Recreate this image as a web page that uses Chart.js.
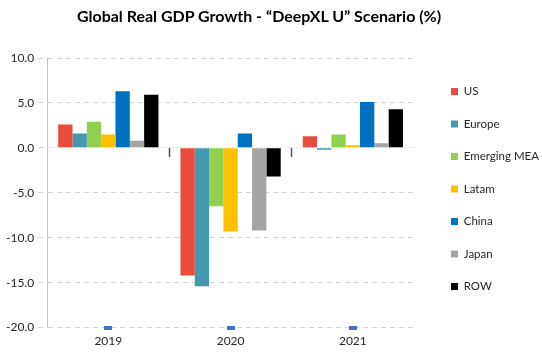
<!DOCTYPE html>
<html>
<head>
<meta charset="utf-8">
<script src="https://cdn.jsdelivr.net/npm/chart.js@4"></script>
<style>
  html, body { margin: 0; padding: 0; background: #ffffff; }
  #wrap { position: relative; width: 542px; height: 354px; }
  #title { position: absolute; top: 6px; left: 14px; width: 490px; text-align: center;
           font-family: Lato, "Open Sans", sans-serif; font-weight: bold; font-size: 16px; color: #000; }
  canvas { position: absolute; left: 0; top: 0; }
</style>
</head>
<body>
<div id="wrap">
  <canvas id="c" width="542" height="354"></canvas>
  <div id="title">Global Real GDP Growth - “DeepXL U” Scenario (%)</div>
</div>
<script>
const categories = ['2019', '2020', '2021'];
const seriesNames = ['US', 'Europe', 'Emerging MEA', 'Latam', 'China', 'Japan', 'ROW'];
const us          = [2.6, -14.2, 1.3];
const europe      = [1.6, -15.4, -0.2];
const emergingMEA = [2.9, -6.5, 1.5];
const latam       = [1.5, -9.3, 0.3];
const china       = [6.3, 1.6, 5.1];
const japan       = [0.8, -9.2, 0.5];
const row         = [5.9, -3.2, 4.3];
const baseMarkers = [-20, -20, -20];
const seriesColors = ['#e84c3d', '#4299b0', '#92d050', '#ffc000', '#0070c0', '#a5a5a5', '#000000'];
const yTicks = { min: -20, max: 10, step: 5 };

const seriesData = [us, europe, emergingMEA, latam, china, japan, row];
const datasets = seriesNames.map((name, i) => ({
  type: 'bar',
  label: name,
  data: seriesData[i],
  backgroundColor: seriesColors[i],
  borderWidth: 0,
  categoryPercentage: 0.82,
  barPercentage: 1.0,
  order: 2
}));

// small flat blue marker used as point style
const markerImg = document.createElement('canvas');
markerImg.width = 8; markerImg.height = 4;
const mctx = markerImg.getContext('2d');
mctx.fillStyle = '#4472c4';
mctx.fillRect(0, 0, 8, 4);

datasets.push({
  type: 'line',
  label: '_markers',
  data: baseMarkers,
  showLine: false,
  clip: false,
  pointStyle: markerImg,
  pointRadius: 4,
  pointHoverRadius: 4,
  borderColor: '#4472c4',
  backgroundColor: '#4472c4',
  order: 1
});

const font = { family: 'Lato, "Open Sans", sans-serif', size: 11.5 };

// nudges the legend block after layout (chart area stays where layout put it)
const legendShift = {
  id: 'legendShift',
  afterLayout(chart) {
    const lg = chart.legend;
    if (!lg) return;
    const dx = 16, dy = -17;
    lg.left += dx; lg.right += dx;
    lg.top += dy; lg.bottom += dy;
  }
};

new Chart(document.getElementById('c'), {
  data: { labels: categories, datasets },
  plugins: [legendShift],
  options: {
    responsive: false,
    animation: false,
    layout: { padding: { top: 58, left: 2, right: 9, bottom: 0 } },
    plugins: {
      title: { display: false },
      tooltip: { enabled: false },
      legend: {
        position: 'right',
        labels: {
          filter: (item) => item.text !== '_markers',
          boxWidth: 7,
          boxHeight: 7,
          padding: 21,
          color: '#262626',
          font: font
        }
      }
    },
    scales: {
      x: {
        type: 'category',
        offset: true,
        grid: { display: false, drawTicks: false, offset: true },
        border: { display: false },
        ticks: { color: '#262626', font: { ...font, size: 12 }, padding: 6 }
      },
      x2: {
        type: 'category',
        position: { y: 0 },
        offset: true,
        grid: {
          offset: true,
          drawOnChartArea: false,
          drawTicks: true,
          tickLength: 9,
          tickWidth: 1.5,
          tickColor: (ctx) => (ctx.index === 1 || ctx.index === 2) ? '#4b4b8a' : 'rgba(0,0,0,0)'
        },
        border: { display: false },
        ticks: { display: false }
      },
      y: {
        min: yTicks.min,
        max: yTicks.max,
        ticks: {
          stepSize: yTicks.step,
          color: '#262626',
          font: { ...font, size: 12 },
          padding: 4,
          callback: (v) => Number(v).toFixed(1)
        },
        grid: {
          color: (ctx) => (ctx.tick && ctx.tick.value === 0) ? '#e3e3e3' : '#d4d4d4',
          lineWidth: 1,
          tickLength: 9,
          tickColor: '#d4d4d4',
          tickBorderDash: [5, 4],
          borderDash: [5, 4]
        },
        border: {
          display: true,
          color: '#c4c4c4',
          width: 1,
          dash: (ctx) => ctx.tick ? (ctx.tick.value === 0 ? [2, 2] : [5, 4]) : []
        }
      }
    }
  }
});
</script>
</body>
</html>
